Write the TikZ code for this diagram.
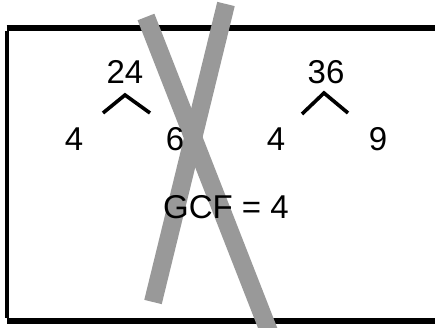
\documentclass[tikz,border=0pt]{standalone}
\usepackage{fontspec}
\setmainfont{Liberation Sans}
\begin{document}
\begin{tikzpicture}[x=1pt,y=-1pt,
  num/.style={font=\fontsize{33}{33}\selectfont, inner sep=0pt, anchor=center},
  caret/.style={line width=3.6pt, line cap=butt, line join=miter},
  stripe/.style={line width=18pt, color=black!40, line cap=butt},
  frameedge/.style={line width=6pt}]
\useasboundingbox (0,0) rectangle (435,328);
% frame
\coordinate (tl) at (6.5,28);
\coordinate (bl) at (6.5,321);
\coordinate (tr) at (440,28);
\coordinate (br) at (440,321);
\draw[frameedge] (tl) -- (tr);
\draw[frameedge] (bl) -- (br);
\draw[line width=4pt] ([yshift=-3pt]tl) -- ([yshift=3pt]bl);
% stripes
\coordinate (s1a) at (146,17);
\coordinate (s1b) at (270,334);
\coordinate (s2a) at (226,4);
\coordinate (s2b) at (153,302);
\draw[stripe] (s1a) -- (s1b);
\draw[stripe] (s2a) -- (s2b);
% numbers
\node[num] (n24) at (125,72) {24};
\node[num] (n36) at (326,72) {36};
\node[num] (a4) at (74,139) {4};
\node[num] (a6) at (175,139) {6};
\node[num] (b4) at (276,139) {4};
\node[num] (b9) at (378,139) {9};
\node[num] (gcf) at (226,207) {GCF = 4};
% carets
\coordinate (c1l) at (103,113);
\coordinate (c1t) at (125,95);
\coordinate (c1r) at (150,113);
\coordinate (c2l) at (302,114);
\coordinate (c2t) at (324,93);
\coordinate (c2r) at (348,113);
\draw[caret] (c1l) -- (c1t) -- (c1r);
\draw[caret] (c2l) -- (c2t) -- (c2r);
\end{tikzpicture}
\end{document}
